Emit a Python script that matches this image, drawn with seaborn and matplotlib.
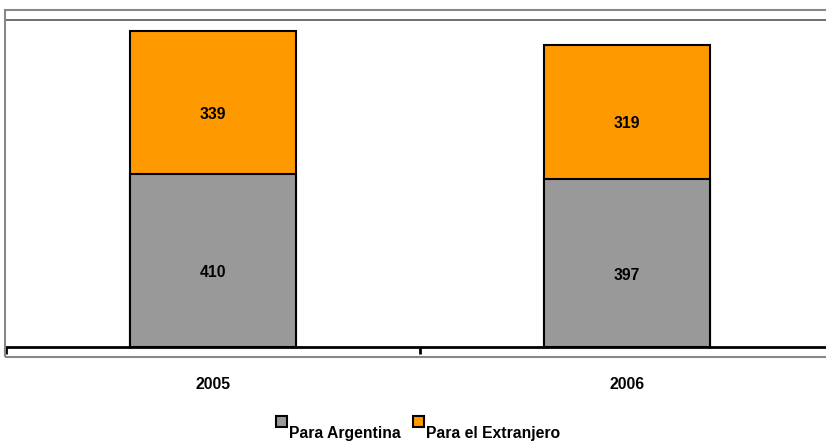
import matplotlib
matplotlib.use("Agg")
import matplotlib.pyplot as plt
from matplotlib.patches import Rectangle, Patch
from matplotlib.legend_handler import HandlerPatch
import pandas as pd
import seaborn as sns

# datos
anios = ["2005", "2006"]
para_argentina = [410, 397]
para_extranjero = [339, 319]

df = pd.DataFrame({"anio": anios, "arg": para_argentina, "ext": para_extranjero})
df["total"] = df["arg"] + df["ext"]

sns.set_style("white")
plt.rcParams["font.family"] = ["Liberation Sans", "DejaVu Sans"]
plt.rcParams["text.color"] = "black"
plt.rcParams["xtick.color"] = "black"
plt.rcParams["xtick.labelcolor"] = "black"

gris = "#999999"
naranja = "#FF9900"
fs = 11.3

fig = plt.figure(figsize=(8.26, 4.41), dpi=100)
# marco gris del area de grafico
fig.patches.append(Rectangle((5 / 826, 84 / 441), 830 / 826, 347 / 441,
                             transform=fig.transFigure, fill=False,
                             edgecolor="#888888", linewidth=1.5, zorder=0))
ax = fig.add_axes([6 / 826, 94 / 441, 820 / 826, 327 / 441])

sns.barplot(data=df, x="anio", y="total", color=naranja, width=0.4,
            edgecolor="black", linewidth=1.5, saturation=1, ax=ax)
sns.barplot(data=df, x="anio", y="arg", color=gris, width=0.4,
            edgecolor="black", linewidth=1.5, saturation=1, ax=ax)

for i, row in df.iterrows():
    ax.annotate(str(row["arg"]), (i, row["arg"] / 2), xytext=(0, -8.5),
                textcoords="offset points", ha="center", va="center",
                fontsize=fs, fontweight="bold", color="black")
    ax.annotate(str(row["ext"]), (i, row["arg"] + row["ext"] / 2),
                xytext=(0, -8.5), textcoords="offset points", ha="center",
                va="center", fontsize=fs, fontweight="bold", color="black")

ax.set_xlim(-0.5, 1.481)
ax.set_ylim(0, 775)
ax.set_xlabel("")
ax.set_ylabel("")
ax.set_yticks([])
ax.set_xticks([0, 1])
ax.set_xticklabels(anios, fontsize=fs, fontweight="bold")
ax.tick_params(axis="x", which="major", length=0, pad=21.5)
ax.set_xticks([-0.5, 0.5], minor=True)
ax.tick_params(axis="x", which="minor", bottom=True, length=5, width=2,
               color="black", direction="out")

for s in ["left", "right"]:
    ax.spines[s].set_visible(False)
ax.spines["top"].set_color("#555555")
ax.spines["top"].set_linewidth(1.2)
ax.spines["bottom"].set_color("black")
ax.spines["bottom"].set_linewidth(2)


# cuadritos de la leyenda un poco elevados, como en el original
def cuadro_alto(legend, orig_handle, xdescent, ydescent, width, height, fontsize):
    return Rectangle((-xdescent, -ydescent + height * 0.95), width, height)


handles = [Patch(facecolor=gris, edgecolor="black", linewidth=1.5),
           Patch(facecolor=naranja, edgecolor="black", linewidth=1.5)]
leg = fig.legend(handles, ["Para Argentina", "Para el Extranjero"],
                 loc="center", bbox_to_anchor=(418 / 826, 1 - 433.5 / 441),
                 ncol=2, frameon=False, handlelength=0.72, handleheight=0.72,
                 handletextpad=0.15, columnspacing=0.75,
                 handler_map={Patch: HandlerPatch(patch_func=cuadro_alto)},
                 prop={"size": fs, "weight": "bold"})

fig.savefig("out.png", dpi=100)
